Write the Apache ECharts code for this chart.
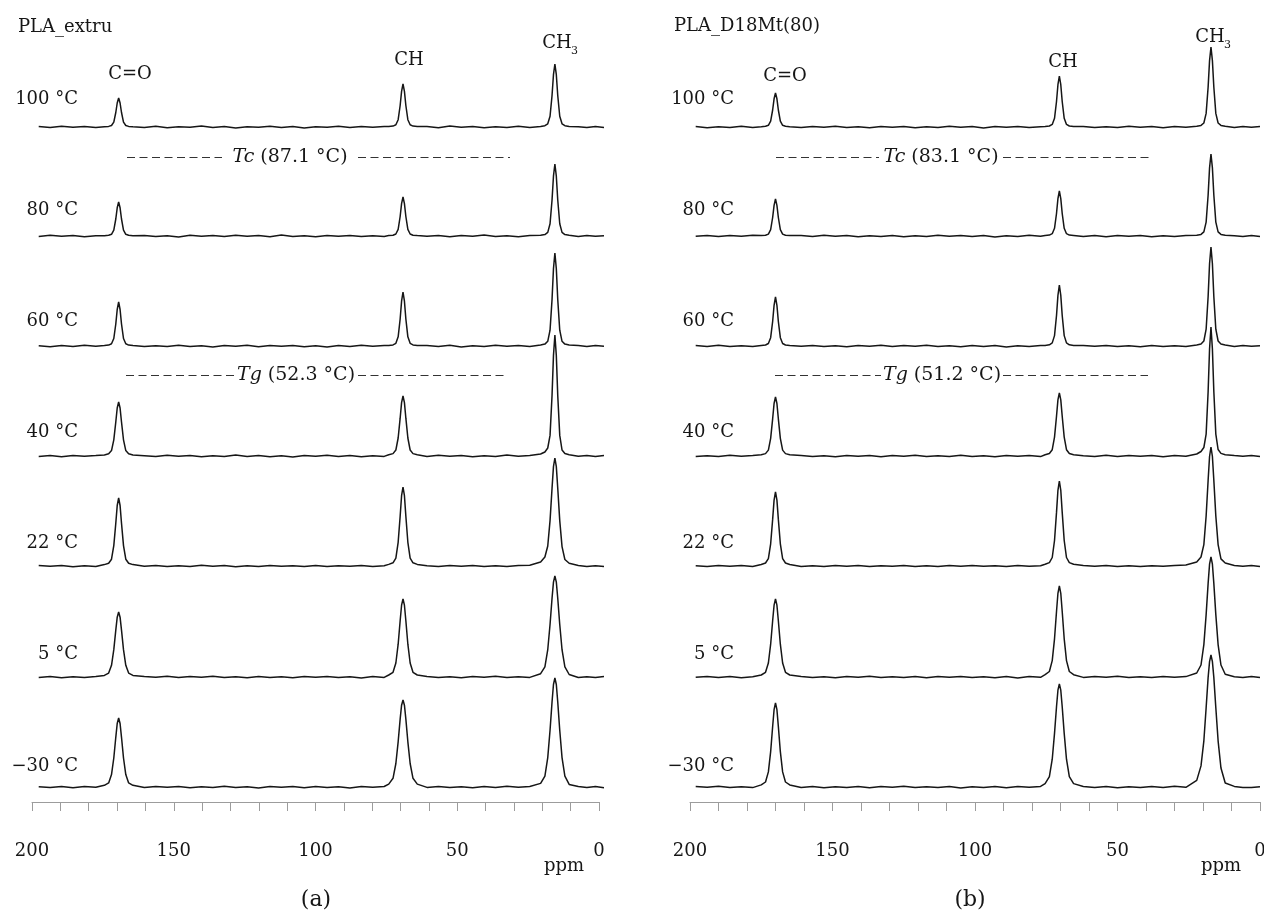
<!DOCTYPE html>
<html>
<head>
<meta charset="utf-8">
<title>PLA variable temperature 13C NMR</title>
<script src="https://cdn.jsdelivr.net/npm/echarts@6.0.0/dist/echarts.min.js"></script>
<style>
  html, body { margin: 0; padding: 0; background: #fff; }
  #chart { width: 1264px; height: 913px; }
</style>
</head>
<body>
<div id="chart"></div>
<script>
// chemical shift grid (ppm) shared by all spectra, dense around the three peaks
const ppm = [198, 194, 190, 186, 182, 178,
  175, 173.5, 172.5, 171.7, 171, 170.5, 170, 169.5, 169, 168.3, 167.5, 166.5, 165,
  161, 157, 153, 149, 145, 141, 137, 133, 129, 125, 121, 117, 113, 109, 105, 101, 97, 93, 89, 85, 81, 77,
  75.4, 73.9, 72.9, 72.1, 71.4, 70.9, 70.4, 69.9, 69.4, 68.7, 67.9, 66.9, 65.4,
  62, 58, 54, 50, 46, 42, 38, 34, 30, 26,
  22.2, 20.7, 19.7, 18.9, 18.2, 17.7, 17.2, 16.7, 16.2, 15.5, 14.7, 13.7, 12.2,
  9, 6, 3, 0];

const temperatures = ['100 °C', '80 °C', '60 °C', '40 °C', '22 °C', '5 °C', '\u221230 °C'];
const samples = ['PLA_extru', 'PLA_D18Mt(80)'];
const tcValues = ['87.1', '83.1'];
const tgValues = ['52.3', '51.2'];
const xTicks = [0, 50, 100, 150, 200];

// PLA_extru intensities (a.u.)
const extru100 = [0.5, -0.6, 0.8, -0.3, 0.6, -0.5,
  0.3, 0.6, 1.5, 4.9, 14.5, 24, 29, 24, 14.5, 4.9, 1.5, 0.6, 0.3,
  -0.4, 0.7, -0.8, 0.3, -0.2, 0.9, -0.6, 0.4, -0.9, 0.2, -0.3, 0.8, -0.5, 0.6, -1.0, 0.3, -0.2, 0.7, -0.6, 0.4, -0.3, 0.6,
  0.4, 0.9, 2.2, 7.3, 21.5, 35.7, 43, 35.7, 21.5, 7.3, 2.2, 0.9, 0.4,
  0.4, -0.7, 0.9, -0.2, 0.5, -0.8, 0.3, -0.4, 0.7, -0.5,
  0.6, 1.3, 3.2, 10.7, 31.5, 52.3, 63, 52.3, 31.5, 10.7, 3.2, 1.3, 0.6,
  0.3, -0.6, 0.5, -0.4];
const extru80 = [-0.4, 0.7, -0.2, 0.5, -0.8, 0.3,
  0.3, 0.7, 1.7, 5.8, 17, 28.2, 34, 28.2, 17, 5.8, 1.7, 0.7, 0.3,
  0.6, -0.5, 0.2, -0.9, 0.7, -0.3, 0.5, -0.6, 0.8, -0.2, 0.4, -0.7, 0.9, -0.4, 0.3, -0.8, 0.6, -0.2, 0.5, -0.6, 0.3, -0.5,
  0.4, 0.8, 2, 6.6, 19.5, 32.4, 39, 32.4, 19.5, 6.6, 2, 0.8, 0.4,
  -0.3, 0.6, -0.8, 0.4, -0.2, 0.9, -0.5, 0.3, -0.7, 0.5,
  0.7, 1.4, 3.6, 12.2, 36, 59.8, 72, 59.8, 36, 12.2, 3.6, 1.4, 0.7,
  -0.5, 0.4, -0.3, 0.2];
const extru60 = [0.2, -0.7, 0.5, -0.4, 0.8, -0.3,
  0.4, 0.9, 2.2, 7.5, 22, 36.5, 44, 36.5, 22, 7.5, 2.2, 0.9, 0.4,
  -0.6, 0.3, -0.4, 0.8, -0.5, 0.2, -0.9, 0.6, -0.3, 0.7, -0.8, 0.4, -0.2, 0.5, -0.7, 0.3, -1.0, 0.6, -0.4, 0.8, -0.3, 0.5,
  0.5, 1.1, 2.7, 9.2, 27, 44.8, 54, 44.8, 27, 9.2, 2.7, 1.1, 0.5,
  0.5, -0.4, 0.7, -0.9, 0.3, -0.5, 0.8, -0.2, 0.4, -0.6,
  0.9, 1.9, 4.7, 15.8, 46.5, 77.2, 93, 77.2, 46.5, 15.8, 4.7, 1.9, 0.9,
  0.4, -0.5, 0.6, -0.3];
const extru40 = [-0.5, 0.4, -0.8, 0.6, -0.2, 0.5,
  1.1, 2.2, 5.4, 16.2, 34, 48, 54, 48, 34, 16.2, 5.4, 2.2, 1.1,
  0.3, -0.6, 0.7, -0.3, 0.5, -0.8, 0.2, -0.5, 0.9, -0.4, 0.6, -0.7, 0.3, -0.9, 0.5, -0.2, 0.7, -0.6, 0.4, -0.8, 0.2, -0.4,
  1.2, 2.4, 6, 18, 37.8, 53.4, 60, 53.4, 37.8, 18, 6, 2.4, 1.2,
  -0.4, 0.8, -0.3, 0.5, -0.7, 0.2, -0.6, 0.9, -0.2, 0.4,
  2, 4, 8, 20.6, 60.5, 100.4, 121, 100.4, 60.5, 20.6, 6, 2.5, 1.2,
  -0.3, 0.5, -0.6, 0.4];
const extru22 = [0.6, -0.3, 0.4, -0.7, 0.3, -0.5,
  1.4, 2.7, 6.8, 20.4, 42.8, 60.5, 68, 60.5, 42.8, 20.4, 6.8, 2.7, 1.4,
  -0.3, 0.5, -0.6, 0.2, -0.4, 0.7, -0.2, 0.4, -0.7, 0.3, -0.5, 0.6, -0.3, 0.2, -0.6, 0.5, -0.4, 0.3, -0.2, 0.6, -0.5, 0.3,
  1.6, 3.2, 7.9, 23.7, 49.8, 70.3, 79, 70.3, 49.8, 23.7, 7.9, 3.2, 1.6,
  0.3, -0.5, 0.4, -0.3, 0.6, -0.4, 0.2, -0.6, 0.5, 0.8,
  4, 9, 20, 45.4, 77.8, 99.4, 108, 99.4, 77.8, 45.4, 19.4, 6.5, 2.7,
  0.5, -0.4, 0.3, -0.5];
const extru5 = [-0.4, 0.6, -0.7, 0.3, -0.5, 0.4,
  1.6, 3.9, 11.7, 27.3, 46.8, 59.8, 65, 59.8, 46.8, 27.3, 11.7, 3.9, 1.6,
  0.5, -0.3, 0.8, -0.6, 0.4, -0.2, 0.7, -0.5, 0.3, -0.8, 0.6, -0.4, 0.2, -0.7, 0.5, -0.3, 0.4, -0.6, 0.3, -0.9, 0.5, -0.4,
  2, 4.7, 14, 32.8, 56.2, 71.8, 78, 71.8, 56.2, 32.8, 14, 4.7, 2,
  0.6, -0.4, 0.3, -0.7, 0.5, -0.3, 0.7, -0.5, 0.2, -0.4,
  3.3, 10.1, 27.3, 52.5, 78.8, 94.9, 101, 94.9, 78.8, 52.5, 27.3, 10.1, 2.5,
  -0.5, 0.3, -0.6, 0.4];
const extruM30 = [0.3, -0.5, 0.6, -0.8, 0.4, -0.3,
  1.7, 4.1, 12.4, 29, 49.7, 63.5, 69, 63.5, 49.7, 29, 12.4, 4.1, 1.7,
  -0.5, 0.6, -0.3, 0.4, -0.7, 0.2, -0.4, 0.8, -0.6, 0.3, -0.9, 0.5, -0.2, 0.6, -0.8, 0.4, -0.5, 0.3, -1.0, 0.6, -0.3, 0.5,
  2.9, 8.7, 23.5, 45.2, 67.9, 81.8, 87, 81.8, 67.9, 45.2, 23.5, 8.7, 2.9,
  -0.4, 0.5, -0.6, 0.3, -0.8, 0.4, -0.5, 0.7, -0.3, 0.5,
  3.6, 10.9, 29.4, 56.7, 85, 102.5, 109, 102.5, 85, 56.7, 29.4, 10.9, 2.6,
  0.4, -0.6, 0.5, -0.7];

// PLA_D18Mt(80) intensities (a.u.)
const d18100 = [0.4, -0.7, 0.3, -0.5, 0.8, -0.4,
  0.3, 0.7, 1.7, 5.8, 17, 28.2, 34, 28.2, 17, 5.8, 1.7, 0.7, 0.3,
  -0.6, 0.5, -0.3, 0.8, -0.4, 0.2, -0.7, 0.6, -0.2, 0.4, -0.8, 0.3, -0.5, 0.7, -0.3, 0.5, -0.9, 0.4, -0.2, 0.6, -0.5, 0.3,
  0.5, 1, 2.6, 8.7, 25.5, 42.3, 51, 42.3, 25.5, 8.7, 2.6, 1, 0.5,
  0.5, -0.6, 0.3, -0.4, 0.8, -0.3, 0.6, -0.7, 0.4, -0.2,
  0.8, 1.6, 4, 13.6, 40, 66.4, 80, 66.4, 40, 13.6, 4, 1.6, 0.8,
  -0.4, 0.6, -0.3, 0.5];
const d1880 = [-0.3, 0.5, -0.6, 0.4, -0.2, 0.7,
  0.4, 0.7, 1.9, 6.3, 18.5, 30.7, 37, 30.7, 18.5, 6.3, 1.9, 0.7, 0.4,
  0.4, -0.5, 0.7, -0.3, 0.6, -0.8, 0.2, -0.4, 0.5, -0.7, 0.3, -0.6, 0.8, -0.2, 0.4, -0.5, 0.6, -0.9, 0.3, -0.4, 0.7, -0.3,
  0.5, 0.9, 2.3, 7.7, 22.5, 37.4, 45, 37.4, 22.5, 7.7, 2.3, 0.9, 0.5,
  -0.5, 0.4, -0.7, 0.6, -0.3, 0.5, -0.8, 0.2, -0.4, 0.6,
  0.8, 1.6, 4.1, 13.9, 41, 68.1, 82, 68.1, 41, 13.9, 4.1, 1.6, 0.8,
  0.3, -0.5, 0.4, -0.6];
const d1860 = [0.5, -0.4, 0.7, -0.6, 0.3, -0.5,
  0.5, 1, 2.5, 8.3, 24.5, 40.7, 49, 40.7, 24.5, 8.3, 2.5, 1, 0.5,
  -0.3, 0.6, -0.5, 0.2, -0.8, 0.5, -0.3, 0.7, -0.6, 0.4, -0.2, 0.8, -0.5, 0.3, -0.7, 0.4, -0.4, 0.6, -0.9, 0.2, -0.4, 0.5,
  0.6, 1.2, 3.1, 10.4, 30.5, 50.6, 61, 50.6, 30.5, 10.4, 3.1, 1.2, 0.6,
  0.4, -0.3, 0.6, -0.5, 0.2, -0.7, 0.5, -0.4, 0.3, -0.6,
  1, 2, 5, 16.8, 49.5, 82.2, 99, 82.2, 49.5, 16.8, 5, 2, 1,
  -0.4, 0.5, -0.3, 0.2];
const d1840 = [-0.6, 0.3, -0.4, 0.7, -0.3, 0.5,
  1.2, 2.4, 5.9, 17.7, 37.2, 52.5, 59, 52.5, 37.2, 17.7, 5.9, 2.4, 1.2,
  0.5, -0.4, 0.3, -0.7, 0.6, -0.2, 0.4, -0.8, 0.5, -0.3, 0.7, -0.5, 0.2, -0.6, 0.8, -0.4, 0.3, -0.7, 0.5, -0.2, 0.4, -0.6,
  1.3, 2.5, 6.3, 18.9, 39.7, 56.1, 63, 56.1, 39.7, 18.9, 6.3, 2.5, 1.3,
  0.3, -0.6, 0.8, -0.4, 0.5, -0.3, 0.6, -0.8, 0.4, -0.2,
  2, 4.5, 8.5, 21.9, 64.5, 107, 129, 107, 64.5, 21.9, 6.5, 2.6, 1.3,
  0.4, -0.3, 0.6, -0.5];
const d1822 = [0.3, -0.5, 0.4, -0.3, 0.6, -0.4,
  1.5, 3, 7.4, 22.2, 46.6, 65.9, 74, 65.9, 46.6, 22.2, 7.4, 3, 1.5,
  -0.4, 0.3, -0.6, 0.5, -0.2, 0.4, -0.5, 0.3, -0.3, 0.6, -0.4, 0.2, -0.6, 0.4, -0.3, 0.5, -0.2, 0.3, -0.5, 0.4, -0.3, 0.2,
  1.7, 3.4, 8.5, 25.5, 53.6, 75.7, 85, 75.7, 53.6, 25.5, 8.5, 3.4, 1.7,
  0.4, -0.3, 0.5, -0.4, 0.2, -0.5, 0.3, -0.2, 0.6, 1.0,
  4, 9, 21.4, 50, 85.7, 109.5, 119, 109.5, 85.7, 50, 21.4, 7.1, 3,
  0.5, -0.3, 0.4, -0.4];
const d185 = [-0.3, 0.6, -0.5, 0.4, -0.7, 0.3,
  2, 4.7, 14, 32.8, 56.2, 71.8, 78, 71.8, 56.2, 32.8, 14, 4.7, 2,
  0.6, -0.4, 0.3, -0.7, 0.5, -0.3, 0.8, -0.5, 0.2, -0.6, 0.4, -0.8, 0.5, -0.3, 0.6, -0.4, 0.3, -0.7, 0.5, -0.9, 0.4, -0.3,
  2.3, 5.5, 16.4, 38.2, 65.5, 83.7, 91, 83.7, 65.5, 38.2, 16.4, 5.5, 2.3,
  -0.4, 0.5, -0.3, 0.7, -0.6, 0.3, -0.5, 0.6, -0.2, 0.4,
  4, 12, 32.4, 62.4, 93.6, 112.8, 120, 112.8, 93.6, 62.4, 32.4, 12, 2.8,
  0.3, -0.5, 0.6, -0.4];
const d18M30 = [0.5, -0.3, 0.7, -0.5, 0.2, -0.6,
  2.1, 5, 15.1, 35.3, 60.5, 77.3, 84, 77.3, 60.5, 35.3, 15.1, 5, 2.1,
  -0.4, 0.6, -0.7, 0.3, -0.5, 0.4, -0.8, 0.5, -0.3, 0.7, -0.6, 0.2, -0.4, 0.6, -0.9, 0.3, -0.5, 0.4, -0.7, 0.5, -0.3, 0.6,
  3.4, 10.3, 27.8, 53.6, 80.3, 96.8, 103, 96.8, 80.3, 53.6, 27.8, 10.3, 3.4,
  0.5, -0.4, 0.6, -0.7, 0.3, -0.5, 0.4, -0.6, 0.8, -0.3,
  6.6, 21.1, 46.2, 79.2, 109.6, 125.4, 132, 125.4, 109.6, 79.2, 46.2, 19, 4,
  0.6, -0.4, -0.6, 0.3];

const FONT = '"DejaVu Serif", "Liberation Serif", serif';
const INK = '#161616';

// layout of the two panels (pixels)
const baselines = [127, 236, 346, 456, 566, 677, 787];
const tempLabelY = [99, 210, 321, 432, 543, 654, 766];
const panels = [
  {
    specLeft: 33, specWidth: 571, axisLeft: 32, axisWidth: 567,
    spectra: [extru100, extru80, extru60, extru40, extru22, extru5, extruM30],
    title: [18, 27], tempRight: 78,
    coLabel: [130, 74], chLabel: [409, 60], ch3Label: [557, 43],
    tcLine: [127, 222, 358, 510], tgLine: [126, 234, 358, 508], transY: [157, 375],
    ppmLabel: [564, 866], caption: [316, 900], captionText: '(a)'
  },
  {
    specLeft: 690, specWidth: 570, axisLeft: 690, axisWidth: 570,
    spectra: [d18100, d1880, d1860, d1840, d1822, d185, d18M30],
    title: [674, 26], tempRight: 734,
    coLabel: [785, 76], chLabel: [1063, 62], ch3Label: [1210, 37],
    tcLine: [776, 879, 1003, 1150], tgLine: [775, 881, 1003, 1148], transY: [157, 375],
    ppmLabel: [1221, 866], caption: [970, 900], captionText: '(b)'
  }
];

function label(x, y, text, size, align, extra) {
  return {
    type: 'text', x: x, y: y, silent: true,
    style: Object.assign({
      text: text, fill: INK, fontSize: size, fontFamily: FONT,
      align: align || 'center', verticalAlign: 'middle'
    }, extra || {})
  };
}

function dashed(x1, x2, y) {
  return {
    type: 'line', silent: true,
    shape: { x1: x1, y1: y + 0.5, x2: x2, y2: y + 0.5 },
    style: { stroke: '#333333', lineWidth: 1, lineDash: [8, 4.5] }
  };
}

const grid = [];
const xAxis = [];
const yAxis = [];
const series = [];
const graphic = [];

panels.forEach((p, pi) => {
  p.spectra.forEach((spec, i) => {
    const g = grid.length;
    grid.push({ left: p.specLeft, width: p.specWidth, top: baselines[i] - 100, height: 110, outerBoundsMode: 'none' });
    xAxis.push({ gridIndex: g, type: 'value', min: 0, max: 200, inverse: true, show: false });
    yAxis.push({ gridIndex: g, type: 'value', min: -10, max: 100, show: false });
    series.push({
      type: 'line', xAxisIndex: g, yAxisIndex: g,
      name: samples[pi] + ' ' + temperatures[i],
      data: ppm.map((x, k) => [x, spec[k]]),
      showSymbol: false, clip: false, silent: true, smooth: false,
      lineStyle: { color: INK, width: 1.5 }
    });
    graphic.push(label(p.tempRight, tempLabelY[i], temperatures[i], 18, 'right'));
  });

  // shared ppm axis under the stack
  const ga = grid.length;
  grid.push({ left: p.axisLeft, width: p.axisWidth, top: 792, height: 10, outerBoundsMode: 'none' });
  xAxis.push({
    gridIndex: ga, type: 'value', min: 0, max: 200, interval: 10, inverse: true,
    axisLine: { lineStyle: { color: '#9c9c9c', width: 1 } },
    axisTick: { length: 9, lineStyle: { color: '#9c9c9c', width: 1 } },
    axisLabel: {
      margin: 40, fontSize: 18, fontFamily: FONT, color: INK,
      showMinLabel: true, showMaxLabel: true,
      formatter: v => (xTicks.indexOf(v) >= 0 ? String(v) : '')
    },
    splitLine: { show: false }
  });
  yAxis.push({ gridIndex: ga, type: 'value', min: 0, max: 1, show: false });

  graphic.push(label(p.title[0], p.title[1], samples[pi], 18, 'left'));
  graphic.push(label(p.coLabel[0], p.coLabel[1], 'C=O', 18));
  graphic.push(label(p.chLabel[0], p.chLabel[1], 'CH', 18));
  graphic.push(label(p.ch3Label[0], p.ch3Label[1], 'CH', 18));
  graphic.push(label(p.ch3Label[0] + 14, p.ch3Label[1] + 8, '3', 11, 'left'));

  const rich = { i: { fontStyle: 'italic', fontSize: 19, fontFamily: FONT, fill: INK } };
  const tc = p.tcLine, tg = p.tgLine;
  graphic.push(dashed(tc[0], tc[1], p.transY[0]));
  graphic.push(dashed(tc[2], tc[3], p.transY[0]));
  graphic.push(label((tc[1] + tc[2]) / 2, p.transY[0], '{i|Tc} (' + tcValues[pi] + ' °C)', 19, 'center', { rich: rich }));
  graphic.push(dashed(tg[0], tg[1], p.transY[1]));
  graphic.push(dashed(tg[2], tg[3], p.transY[1]));
  graphic.push(label((tg[1] + tg[2]) / 2, p.transY[1], '{i|Tg} (' + tgValues[pi] + ' °C)', 19, 'center', { rich: rich }));

  graphic.push(label(p.ppmLabel[0], p.ppmLabel[1], 'ppm', 18));
  graphic.push(label(p.caption[0], p.caption[1], p.captionText, 22));
});

const chart = echarts.init(document.getElementById('chart'), null, { renderer: 'canvas' });
chart.setOption({
  animation: false,
  backgroundColor: '#ffffff',
  grid: grid,
  xAxis: xAxis,
  yAxis: yAxis,
  series: series,
  graphic: graphic
});
</script>
</body>
</html>
